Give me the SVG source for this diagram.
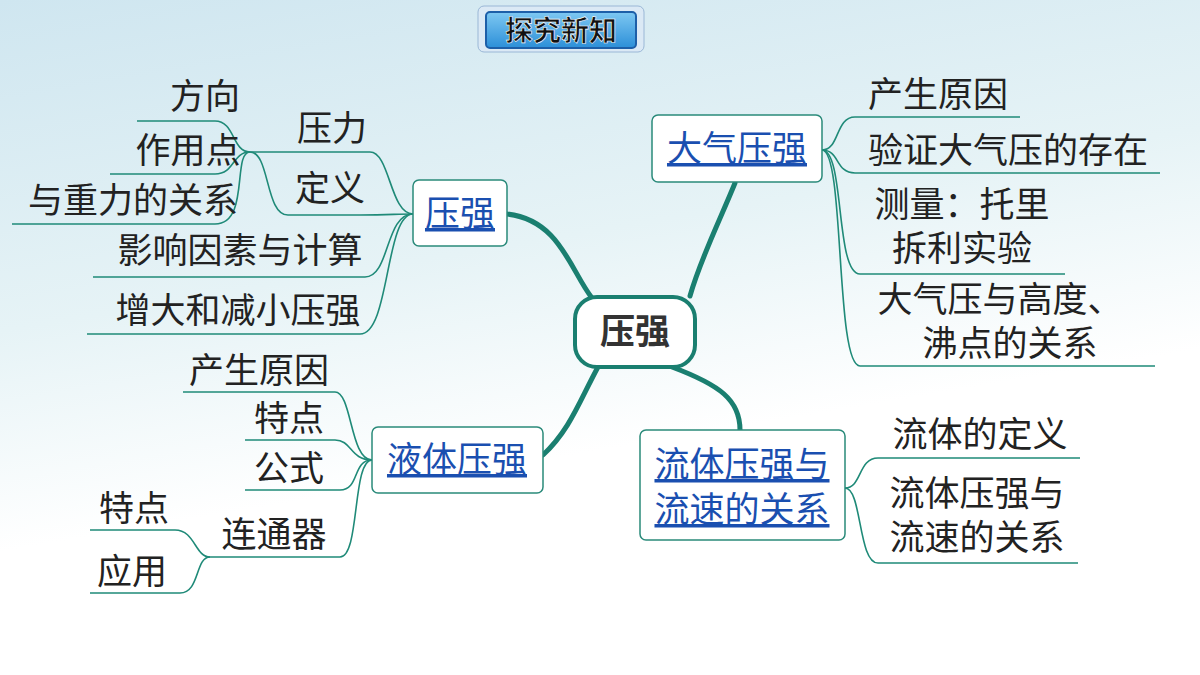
<svg xmlns="http://www.w3.org/2000/svg" width="1200" height="675" viewBox="0 0 1200 675">
<defs>
<linearGradient id="bg" x1="0" y1="0" x2="0.3" y2="1">
<stop offset="0" stop-color="#cfe6f0"/><stop offset="0.45" stop-color="#e6f3f6"/><stop offset="0.75" stop-color="#ffffff"/>
</linearGradient>
<linearGradient id="ban" x1="0" y1="0" x2="0" y2="1"><stop offset="0" stop-color="#7ec8f2"/><stop offset="1" stop-color="#2c8fd8"/></linearGradient>
<style>
.t{font-family:"Noto Sans CJK SC","Noto Sans",sans-serif;font-size:35px;fill:#222}
.n{font-family:"Noto Sans CJK SC","Noto Sans",sans-serif;font-size:35px;fill:#1a4fb0;text-decoration:underline}
.box{fill:#fff;stroke:#2a8a7a;stroke-width:1.5}
.l{fill:none;stroke:#1f8a78;stroke-width:1.6}
.m{fill:none;stroke:#1a7f70;stroke-width:5;stroke-linecap:round}
</style>
</defs>
<rect width="1200" height="675" fill="url(#bg)"/>
<g id="banner">
<rect x="478" y="6" width="166" height="46" rx="6" fill="#dbe9f5" stroke="#9ab7d6"/>
<rect x="486" y="12" width="150" height="36" rx="4" fill="url(#ban)" stroke="#1d5fa8" stroke-width="2"/>
<text x="561" y="41" text-anchor="middle" font-family="Noto Sans CJK SC,sans-serif" font-size="28" font-weight="bold" fill="#111" stroke="#fff" stroke-width="0.6">探究新知</text>
</g>
<g id="connectors">
<path class="m" d="M507,214 C560,220 570,270 592,298"/>
<path class="m" d="M735,183 C720,220 700,260 690,296"/>
<path class="m" d="M672,367 C720,385 740,400 740,430"/>
<path class="m" d="M598,367 C580,400 570,430 543,455"/>
<path class="l" d="M413,214 C390,214 390,152 370,152 L288,152"/>
<path class="l" d="M413,214 C395,214 390,215 360,215 L288,215"/>
<path class="l" d="M413,214 C385,214 390,277 365,277 L93,277"/>
<path class="l" d="M413,214 C385,214 390,334 360,334 L87,334"/>
<path class="l" d="M288,152 L250,152"/>
<path class="l" d="M288,215 C265,215 270,152 250,152"/>
<path class="l" d="M250,152 C232,152 235,121 215,121 L137,121"/>
<path class="l" d="M250,152 C232,152 235,174 215,174 L110,174"/>
<path class="l" d="M250,152 C232,152 250,224 215,224 L12,224"/>
<path class="l" d="M822,150 C840,150 835,117 855,117 L1020,117"/>
<path class="l" d="M822,150 C840,150 835,173 855,173 L1160,173"/>
<path class="l" d="M822,150 C845,150 835,274 860,274 L1065,274"/>
<path class="l" d="M822,150 C845,150 835,366 860,366 L1155,366"/>
<path class="l" d="M845,488 C862,488 858,458 878,458 L1080,458"/>
<path class="l" d="M845,488 C862,488 858,563 878,563 L1078,563"/>
<path class="l" d="M372,460 C350,460 352,392 335,392 L183,392"/>
<path class="l" d="M372,460 C350,460 352,440 335,440 L245,440"/>
<path class="l" d="M372,460 C352,460 360,490 340,490 L245,490"/>
<path class="l" d="M372,460 C352,460 360,557 340,557 L210,557"/>
<path class="l" d="M210,557 C195,557 195,530 175,530 L90,530"/>
<path class="l" d="M210,557 C195,557 200,593 180,593 L90,593"/>
</g>
<g id="center"><rect x="575" y="297" width="120" height="70" rx="22" fill="#fff" stroke="#1a7f70" stroke-width="4"/><text x="635" y="344" text-anchor="middle" font-family="Noto Sans CJK SC,sans-serif" font-size="35" font-weight="bold" fill="#333">压强</text></g>
<g id="n-yaqiang"><rect class="box" x="413" y="180" width="94" height="66" rx="6"/><text class="n" x="460" y="226" text-anchor="middle">压强</text></g>
<g id="n-daqi"><rect class="box" x="652" y="115" width="170" height="67" rx="6"/><text class="n" x="737" y="161" text-anchor="middle">大气压强</text></g>
<g id="n-liuti"><rect class="box" x="640" y="430" width="205" height="110" rx="6"/><text class="n" x="742" y="477" text-anchor="middle">流体压强与</text><text class="n" x="742" y="522" text-anchor="middle">流速的关系</text></g>
<g id="n-yeti"><rect class="box" x="372" y="427" width="171" height="66" rx="6"/><text class="n" x="457" y="472" text-anchor="middle">液体压强</text></g>
<g id="labels">
<text class="t" x="205" y="109" text-anchor="middle">方向</text>
<text class="t" x="332" y="141" text-anchor="middle">压力</text>
<text class="t" x="188" y="163" text-anchor="middle">作用点</text>
<text class="t" x="330" y="201" text-anchor="middle">定义</text>
<text class="t" x="133" y="213" text-anchor="middle">与重力的关系</text>
<text class="t" x="240" y="263" text-anchor="middle">影响因素与计算</text>
<text class="t" x="238" y="323" text-anchor="middle">增大和减小压强</text>
<text class="t" x="938" y="107" text-anchor="middle">产生原因</text>
<text class="t" x="1008" y="163" text-anchor="middle">验证大气压的存在</text>
<text class="t" x="962" y="217" text-anchor="middle">测量：托里</text>
<text class="t" x="962" y="261" text-anchor="middle">拆利实验</text>
<text class="t" x="1000" y="312" text-anchor="middle">大气压与高度、</text>
<text class="t" x="1010" y="356" text-anchor="middle">沸点的关系</text>
<text class="t" x="980" y="447" text-anchor="middle">流体的定义</text>
<text class="t" x="977" y="506" text-anchor="middle">流体压强与</text>
<text class="t" x="977" y="550" text-anchor="middle">流速的关系</text>
<text class="t" x="259" y="383" text-anchor="middle">产生原因</text>
<text class="t" x="289" y="431" text-anchor="middle">特点</text>
<text class="t" x="289" y="481" text-anchor="middle">公式</text>
<text class="t" x="274" y="547" text-anchor="middle">连通器</text>
<text class="t" x="134" y="521" text-anchor="middle">特点</text>
<text class="t" x="132" y="584" text-anchor="middle">应用</text>
</g>
</svg>
